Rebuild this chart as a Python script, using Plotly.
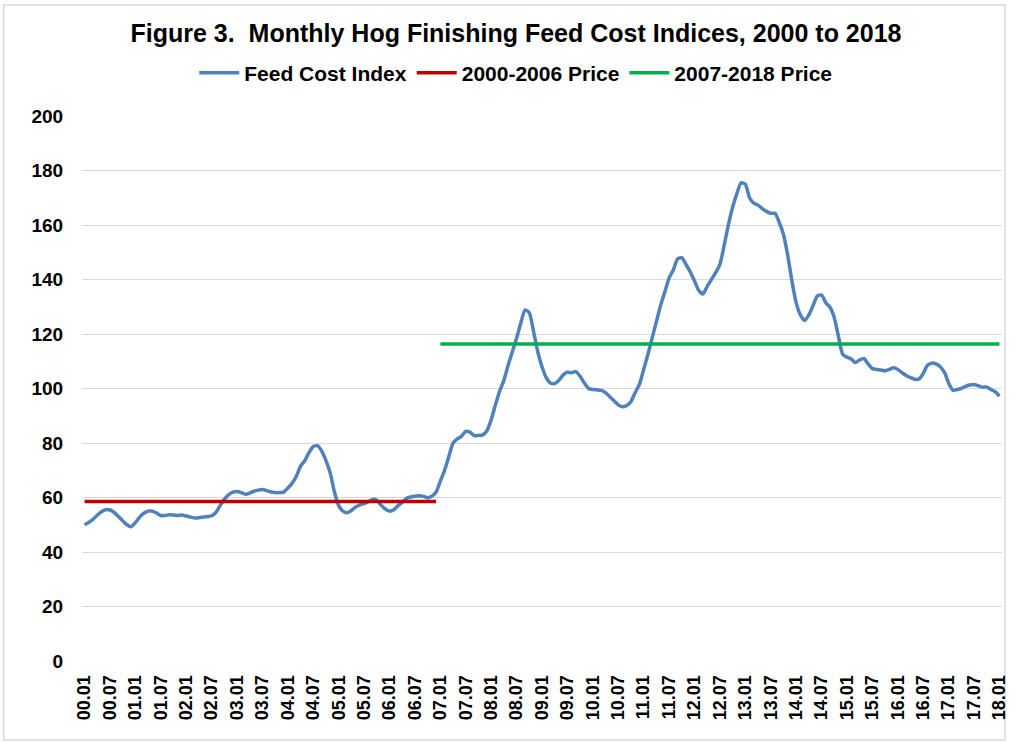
import plotly.graph_objects as go

# Monthly labels 00.01 .. 18.01
years = list(range(0, 19))
month_labels = [f"{y:02d}.{m:02d}" for y in years for m in range(1, 13)][:217]
tick_labels = month_labels[::6]

feed_2000 = [50.0, 50.8, 52.0, 53.5, 54.8, 55.5, 55.4, 54.5, 53.0, 51.5, 50.0, 49.3]
feed_2001 = [50.8, 52.8, 54.2, 55.0, 55.0, 54.3, 53.4, 53.4, 53.7, 53.6, 53.4, 53.6]
feed_2002 = [53.2, 52.8, 52.5, 52.6, 52.8, 53.0, 53.3, 54.5, 57.0, 59.3, 61.0, 62.0]
feed_2003 = [62.2, 61.8, 61.2, 61.6, 62.3, 62.7, 62.9, 62.5, 62.0, 61.8, 61.8, 62.0]
feed_2004 = [63.5, 65.2, 67.8, 71.5, 73.5, 76.5, 78.7, 79.0, 77.0, 73.5, 69.0, 62.0]
feed_2005 = [57.0, 55.0, 54.4, 55.2, 56.5, 57.3, 57.8, 58.5, 59.3, 59.0, 57.2, 55.8]
feed_2006 = [55.0, 55.5, 57.0, 58.2, 59.7, 60.2, 60.5, 60.6, 60.4, 59.9, 60.5, 62.0]
feed_2007 = [66.0, 70.0, 75.0, 80.0, 81.5, 82.5, 84.3, 84.0, 82.7, 82.8, 83.0, 84.5]
feed_2008 = [88.5, 94.0, 99.0, 103.0, 108.5, 113.5, 118.5, 124.0, 128.8, 127.8, 121.0, 113.5]
feed_2009 = [108.0, 104.0, 102.0, 101.8, 103.0, 105.0, 106.0, 105.8, 106.2, 104.5, 102.0, 100.0]
feed_2010 = [99.6, 99.5, 99.3, 98.5, 97.0, 95.5, 94.0, 93.3, 93.8, 95.2, 98.5, 101.5]
feed_2011 = [107.0, 112.5, 118.5, 124.5, 130.5, 135.5, 140.5, 143.5, 147.5, 148.0, 145.5, 142.8]
feed_2012 = [139.5, 136.0, 134.7, 137.5, 140.0, 142.5, 145.5, 152.5, 160.0, 166.5, 171.5, 175.5]
feed_2013 = [175.0, 170.0, 168.0, 167.3, 166.0, 165.0, 164.3, 164.3, 161.0, 156.5, 149.0, 139.5]
feed_2014 = [131.5, 127.0, 125.0, 127.0, 130.5, 134.0, 134.3, 131.5, 129.8, 126.0, 119.0, 112.5]
feed_2015 = [111.5, 110.8, 109.5, 110.5, 111.0, 109.0, 107.3, 107.0, 106.8, 106.5, 107.0, 107.6]
feed_2016 = [107.0, 105.8, 104.8, 104.0, 103.4, 103.5, 105.5, 108.5, 109.3, 109.0, 108.0, 106.0]
feed_2017 = [102.0, 99.4, 99.6, 100.0, 100.8, 101.3, 101.5, 101.0, 100.5, 100.5, 99.6, 98.8]
feed_2018 = [97.2]

feed_cost_index = (feed_2000 + feed_2001 + feed_2002 + feed_2003 + feed_2004 + feed_2005
                   + feed_2006 + feed_2007 + feed_2008 + feed_2009 + feed_2010 + feed_2011
                   + feed_2012 + feed_2013 + feed_2014 + feed_2015 + feed_2016 + feed_2017
                   + feed_2018)

price_2000_2006 = 58.5
price_2007_2018 = 116.3

x_early = month_labels[0:84]
x_late = month_labels[84:217]

FONT = "Arial, 'Liberation Sans', sans-serif"

fig = go.Figure()
fig.add_trace(go.Scatter(x=month_labels, y=feed_cost_index, mode="lines",
                         name="Feed Cost Index",
                         line=dict(color="#4F81BD", width=3.5, shape="spline", smoothing=0.6)))
fig.add_trace(go.Scatter(x=x_early, y=[price_2000_2006] * len(x_early), mode="lines",
                         name="2000-2006 Price",
                         line=dict(color="#C00000", width=3.5)))
fig.add_trace(go.Scatter(x=x_late, y=[price_2007_2018] * len(x_late), mode="lines",
                         name="2007-2018 Price",
                         line=dict(color="#00B050", width=3.5)))

L, R, T, B = 82, 6, 116, 82
W, H = 1015, 743
pw = W - L - R
ph = H - T - B

fig.update_layout(
    width=W, height=H,
    margin=dict(l=L, r=R, t=T, b=B),
    paper_bgcolor="white", plot_bgcolor="white",
    font=dict(family=FONT, color="black"),
    title=dict(text="<b>Figure 3.\u00a0 Monthly Hog Finishing Feed Cost Indices, 2000 to 2018</b>",
               x=516 / W, xref="container", xanchor="center",
               y=1 - 33 / H, yref="container", yanchor="middle",
               font=dict(size=25, family=FONT, color="black")),
    legend=dict(orientation="h", x=(519 - L) / pw, xanchor="center",
                y=1 + (T - 73) / ph, yanchor="middle",
                font=dict(size=21, family=FONT, color="black", weight="bold"),
                itemwidth=40, tracegroupgap=0, bgcolor="rgba(0,0,0,0)"),
    showlegend=True,
)

fig.update_xaxes(type="category", categoryorder="array", categoryarray=month_labels,
                 range=[-0.6, 216.6],
                 tickmode="array", tickvals=tick_labels, ticktext=tick_labels,
                 tickangle=-90, ticks="outside", ticklen=6, tickcolor="rgba(0,0,0,0)",
                 tickfont=dict(size=18, family=FONT, color="black", weight="bold"),
                 showgrid=False, showline=False, zeroline=False)
fig.update_yaxes(range=[0, 200], tickmode="array", tickvals=list(range(0, 201, 20)),
                 ticks="outside", ticklen=14, tickcolor="rgba(0,0,0,0)",
                 tickfont=dict(size=19, family=FONT, color="black", weight="bold"),
                 showgrid=True, gridcolor="#D9D9D9", gridwidth=1,
                 showline=False, zeroline=False)

# chart border
fig.add_shape(type="rect", xref="paper", yref="paper",
              x0=(3 - L) / pw, x1=(1012 - L) / pw,
              y0=-(740 - (H - B)) / ph, y1=1 + (T - 5) / ph,
              line=dict(color="#D9D9D9", width=1.5), fillcolor="rgba(0,0,0,0)", layer="below")

fig.write_html("out.html", config={"displayModeBar": False},
               post_script="document.body.style.margin='0';document.body.style.overflow='hidden';")
